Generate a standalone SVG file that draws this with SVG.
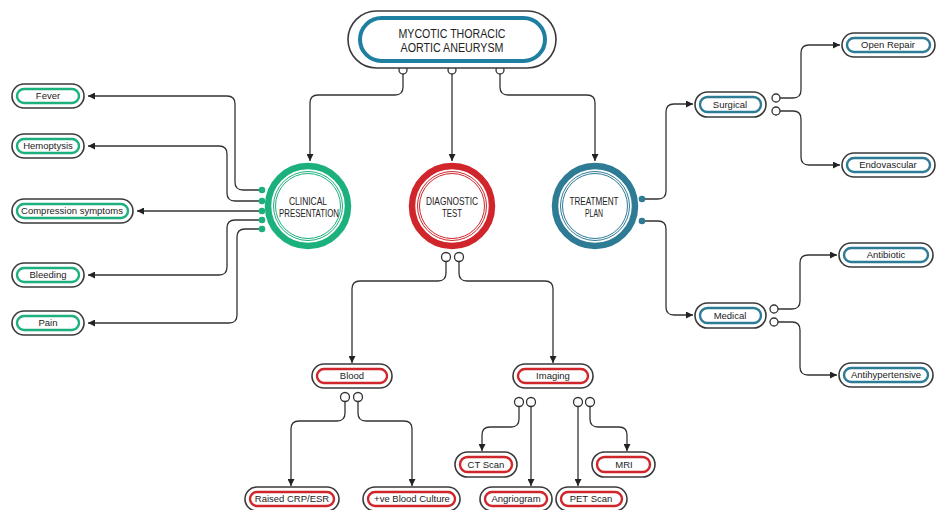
<svg xmlns="http://www.w3.org/2000/svg" width="937" height="510" viewBox="0 0 937 510">
<style>
.bg{fill:#fff}
.po{fill:#fff;stroke:#3a3a3a;stroke-width:1.6}
.pi{fill:#fff;stroke-width:2.4}
.g{stroke:#1cb07c}
.r{stroke:#d0262b}
.b{stroke:#2e7b96}
.t{font-family:"Liberation Sans",Arial,sans-serif;font-size:9.5px;fill:#222;text-anchor:middle}
.ct{font-family:"Liberation Sans",Arial,sans-serif;font-size:10.5px;fill:#222;text-anchor:middle}
.tt{font-family:"Liberation Sans",Arial,sans-serif;font-size:12px;fill:#222;text-anchor:middle}
.ln{fill:none;stroke:#333;stroke-width:1.3}
.oc{fill:#fff;stroke:#333;stroke-width:1.3}
.ring{fill:#fff;stroke-width:6.5}
.thin{fill:none;stroke-width:1}
</style>
<defs>
<marker id="ah" markerWidth="8" markerHeight="7" refX="7" refY="3.5" orient="auto" markerUnits="userSpaceOnUse">
<path d="M0,0 L7,3.5 L0,7 z" fill="#222"/>
</marker>
</defs>
<rect class="bg" x="0" y="0" width="937" height="510"/>

<g id="connectors">
<path class="ln" marker-end="url(#ah)" d="M403,74 V87 Q403,95 395,95 H318 Q310,95 310,103 V161"/>
<path class="ln" marker-end="url(#ah)" d="M452,74 V161"/>
<path class="ln" marker-end="url(#ah)" d="M500,74 V87 Q500,95 508,95 H587 Q595,95 595,103 V161"/>

<path class="ln" marker-end="url(#ah)" d="M262,190 H243 Q235,190 235,182 V104 Q235,96 227,96 H88"/>
<path class="ln" marker-end="url(#ah)" d="M262,201 H235 Q227,201 227,193 V154 Q227,146 219,146 H88"/>
<path class="ln" marker-end="url(#ah)" d="M262,211 H137"/>
<path class="ln" marker-end="url(#ah)" d="M262,220 H235 Q227,220 227,228 V267 Q227,275 219,275 H88"/>
<path class="ln" marker-end="url(#ah)" d="M262,229 H245 Q237,229 237,237 V315 Q237,323 229,323 H88"/>

<path class="ln" marker-end="url(#ah)" d="M642,199 H658 Q666,199 666,191 V112 Q666,104 674,104 H693"/>
<path class="ln" marker-end="url(#ah)" d="M642,221 H658 Q666,221 666,229 V307 Q666,315 674,315 H693"/>
<path class="ln" marker-end="url(#ah)" d="M780,98 H793 Q801,98 801,90 V53 Q801,45 809,45 H840"/>
<path class="ln" marker-end="url(#ah)" d="M780,111 H793 Q801,111 801,119 V157 Q801,165 809,165 H840"/>
<path class="ln" marker-end="url(#ah)" d="M778,309 H792 Q800,309 800,301 V263 Q800,255 808,255 H837"/>
<path class="ln" marker-end="url(#ah)" d="M778,322 H792 Q800,322 800,330 V367 Q800,375 808,375 H837"/>

<path class="ln" marker-end="url(#ah)" d="M446,261.5 V273 Q446,281 438,281 H360 Q352,281 352,289 V363"/>
<path class="ln" marker-end="url(#ah)" d="M459,261.5 V273 Q459,281 467,281 H545 Q553,281 553,289 V363"/>
<path class="ln" marker-end="url(#ah)" d="M345,401.5 V413 Q345,421 337,421 H299 Q291,421 291,429 V486"/>
<path class="ln" marker-end="url(#ah)" d="M358,401.5 V413 Q358,421 366,421 H404 Q412,421 412,429 V486"/>
<path class="ln" marker-end="url(#ah)" d="M519,406.5 V419 Q519,427 511,427 H490 Q482,427 482,435 V451"/>
<path class="ln" marker-end="url(#ah)" d="M531,406.5 V486"/>
<path class="ln" marker-end="url(#ah)" d="M578,406.5 V486"/>
<path class="ln" marker-end="url(#ah)" d="M590,406.5 V419 Q590,427 598,427 H619 Q627,427 627,435 V451"/>

<circle class="oc" cx="403" cy="70" r="4"/>
<circle class="oc" cx="452" cy="70" r="4"/>
<circle class="oc" cx="500" cy="70" r="4"/>
<circle class="oc" cx="446" cy="257" r="4.5"/>
<circle class="oc" cx="459" cy="257" r="4.5"/>
<circle class="oc" cx="345" cy="397" r="4.5"/>
<circle class="oc" cx="358" cy="397" r="4.5"/>
<circle class="oc" cx="519" cy="402" r="4.5"/>
<circle class="oc" cx="531" cy="402" r="4.5"/>
<circle class="oc" cx="578" cy="402" r="4.5"/>
<circle class="oc" cx="590" cy="402" r="4.5"/>
<circle class="oc" cx="776" cy="98" r="4"/>
<circle class="oc" cx="776" cy="111" r="4"/>
<circle class="oc" cx="774" cy="309" r="4"/>
<circle class="oc" cx="774" cy="322" r="4"/>

<g fill="#1cb07c">
<circle cx="262" cy="190" r="3.3"/>
<circle cx="262" cy="201" r="3.3"/>
<circle cx="262" cy="211" r="3.3"/>
<circle cx="262" cy="220" r="3.3"/>
<circle cx="262" cy="229" r="3.3"/>
</g>
<g fill="#2e7b96">
<circle cx="642" cy="199" r="3.3"/>
<circle cx="642" cy="221" r="3.3"/>
</g>
</g>

<g id="root">
<rect class="po" x="348" y="11" width="208" height="57" rx="28.5"/>
<rect fill="#fff" stroke="#1f7fa0" stroke-width="4" x="360" y="18" width="185" height="43" rx="21.5"/>
<text class="tt" x="452" y="38" textLength="107" lengthAdjust="spacingAndGlyphs">MYCOTIC THORACIC</text>
<text class="tt" x="452" y="52" textLength="103" lengthAdjust="spacingAndGlyphs">AORTIC ANEURYSM</text>
</g>

<g id="clinical">
<circle class="ring g" cx="308" cy="206" r="40"/>
<circle class="thin g" cx="308" cy="206" r="34.5"/>
<circle class="thin g" cx="308" cy="206" r="32.5"/>
<text class="ct" x="308" y="205" textLength="38" lengthAdjust="spacingAndGlyphs">CLINICAL</text>
<text class="ct" x="309" y="217" textLength="60" lengthAdjust="spacingAndGlyphs">PRESENTATION</text>
</g>
<g id="diagnostic">
<circle class="ring r" cx="452" cy="206" r="40"/>
<circle class="thin r" cx="452" cy="206" r="34.5"/>
<circle class="thin r" cx="452" cy="206" r="32.5"/>
<text class="ct" x="452" y="205" textLength="52" lengthAdjust="spacingAndGlyphs">DIAGNOSTIC</text>
<text class="ct" x="452" y="217" textLength="20" lengthAdjust="spacingAndGlyphs">TEST</text>
</g>
<g id="treatment">
<circle class="ring b" cx="595" cy="206" r="40"/>
<circle class="thin b" cx="595" cy="206" r="34.5"/>
<circle class="thin b" cx="595" cy="206" r="32.5"/>
<text class="ct" x="594" y="205" textLength="49" lengthAdjust="spacingAndGlyphs">TREATMENT</text>
<text class="ct" x="594" y="217" textLength="18" lengthAdjust="spacingAndGlyphs">PLAN</text>
</g>

<g id="fever">
<rect class="po" x="12" y="84" width="72" height="24" rx="12"/>
<rect class="pi g" x="17" y="89" width="62" height="14" rx="7"/>
<text class="t" x="48" y="99.3">Fever</text>
</g>
<g id="hemoptysis">
<rect class="po" x="12" y="134" width="72" height="24" rx="12"/>
<rect class="pi g" x="17" y="139" width="62" height="14" rx="7"/>
<text class="t" x="48" y="149.3">Hemoptysis</text>
</g>
<g id="compression">
<rect class="po" x="12" y="199" width="121" height="24" rx="12"/>
<rect class="pi g" x="17" y="204" width="111" height="14" rx="7"/>
<text class="t" x="72" y="214.3">Compression symptoms</text>
</g>
<g id="bleeding">
<rect class="po" x="12" y="263" width="72" height="24" rx="12"/>
<rect class="pi g" x="17" y="268" width="62" height="14" rx="7"/>
<text class="t" x="48" y="278.3">Bleeding</text>
</g>
<g id="pain">
<rect class="po" x="12" y="311" width="72" height="24" rx="12"/>
<rect class="pi g" x="17" y="316" width="62" height="14" rx="7"/>
<text class="t" x="48" y="326.3">Pain</text>
</g>

<g id="surgical">
<rect class="po" x="695" y="92" width="71" height="25" rx="12.5"/>
<rect class="pi b" x="700" y="97" width="61" height="15" rx="7.5"/>
<text class="t" x="730" y="107.8">Surgical</text>
</g>
<g id="medical">
<rect class="po" x="695" y="303" width="71" height="25" rx="12.5"/>
<rect class="pi b" x="700" y="308" width="61" height="15" rx="7.5"/>
<text class="t" x="730" y="318.8">Medical</text>
</g>
<g id="openrepair">
<rect class="po" x="842" y="33" width="93" height="24" rx="12"/>
<rect class="pi b" x="847" y="38" width="83" height="14" rx="7"/>
<text class="t" x="888" y="48.3">Open Repair</text>
</g>
<g id="endovascular">
<rect class="po" x="842" y="153" width="93" height="24" rx="12"/>
<rect class="pi b" x="847" y="158" width="83" height="14" rx="7"/>
<text class="t" x="888" y="168.3">Endovascular</text>
</g>
<g id="antibiotic">
<rect class="po" x="839" y="243" width="94" height="24" rx="12"/>
<rect class="pi b" x="844" y="248" width="84" height="14" rx="7"/>
<text class="t" x="886" y="258.3">Antibiotic</text>
</g>
<g id="antihypertensive">
<rect class="po" x="839" y="363" width="94" height="24" rx="12"/>
<rect class="pi b" x="844" y="368" width="84" height="14" rx="7"/>
<text class="t" x="886" y="378.3">Antihypertensive</text>
</g>

<g id="blood">
<rect class="po" x="312" y="364" width="80" height="24" rx="12"/>
<rect class="pi r" x="317" y="369" width="70" height="14" rx="7"/>
<text class="t" x="352" y="379.3">Blood</text>
</g>
<g id="imaging">
<rect class="po" x="513" y="364" width="80" height="24" rx="12"/>
<rect class="pi r" x="518" y="369" width="70" height="14" rx="7"/>
<text class="t" x="553" y="379.3">Imaging</text>
</g>
<g id="crp">
<rect class="po" x="245" y="487" width="94" height="24" rx="12"/>
<rect class="pi r" x="250" y="492" width="84" height="14" rx="7"/>
<text class="t" x="292" y="502.3">Raised CRP/ESR</text>
</g>
<g id="culture">
<rect class="po" x="363" y="487" width="97" height="24" rx="12"/>
<rect class="pi r" x="368" y="492" width="87" height="14" rx="7"/>
<text class="t" x="412" y="502.3">+ve Blood Culture</text>
</g>
<g id="ctscan">
<rect class="po" x="455" y="452" width="62" height="25" rx="12.5"/>
<rect class="pi r" x="460" y="457" width="52" height="15" rx="7.5"/>
<text class="t" x="486" y="467.8">CT Scan</text>
</g>
<g id="mri">
<rect class="po" x="592" y="452" width="63" height="25" rx="12.5"/>
<rect class="pi r" x="597" y="457" width="53" height="15" rx="7.5"/>
<text class="t" x="624" y="467.8">MRI</text>
</g>
<g id="angiogram">
<rect class="po" x="480" y="487" width="72" height="24" rx="12"/>
<rect class="pi r" x="485" y="492" width="62" height="14" rx="7"/>
<text class="t" x="516" y="502.3">Angriogram</text>
</g>
<g id="petscan">
<rect class="po" x="556" y="487" width="71" height="24" rx="12"/>
<rect class="pi r" x="561" y="492" width="61" height="14" rx="7"/>
<text class="t" x="591" y="502.3">PET Scan</text>
</g>
</svg>
